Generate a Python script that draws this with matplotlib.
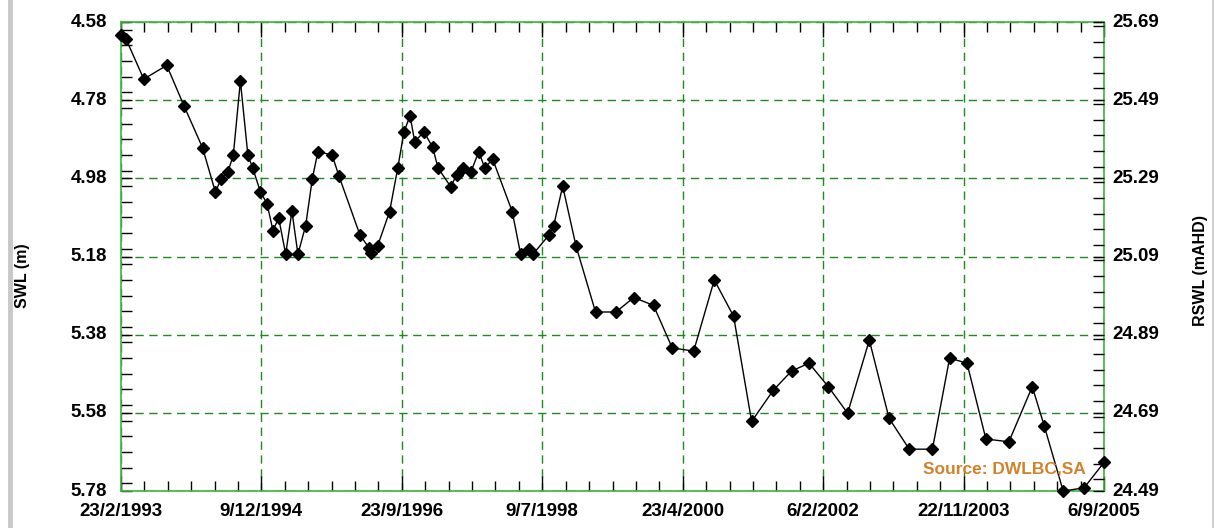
import datetime as dt

import matplotlib
matplotlib.use("Agg")
import matplotlib.pyplot as plt
import matplotlib.dates as mdates
import matplotlib.transforms as mtransforms
from matplotlib.ticker import MultipleLocator, FuncFormatter, FixedLocator
from matplotlib.lines import Line2D

plt.rcParams['font.family'] = ['Liberation Sans', 'DejaVu Sans']

# Sample dates and standing water level below ground (m)
dates = [
    "1993-02-23", "1993-03-18", "1993-06-09", "1993-09-24", "1993-12-13",
    "1994-03-10", "1994-05-08", "1994-06-05", "1994-07-05", "1994-07-31",
    "1994-09-02", "1994-10-07", "1994-10-29", "1994-12-04", "1995-01-04",
    "1995-02-01", "1995-02-27", "1995-04-01", "1995-04-30", "1995-05-28",
    "1995-07-03", "1995-08-03", "1995-08-29", "1995-11-03", "1995-12-05",
    "1996-03-12", "1996-04-23", "1996-05-02", "1996-06-02", "1996-07-28",
    "1996-09-04", "1996-10-03", "1996-10-31", "1996-11-22", "1997-01-04",
    "1997-02-14", "1997-03-10", "1997-05-08", "1997-06-05", "1997-07-06",
    "1997-08-11", "1997-09-16", "1997-10-14", "1997-11-20", "1998-02-19",
    "1998-03-30", "1998-05-06", "1998-05-27", "1998-08-09", "1998-08-31",
    "1998-10-12", "1998-12-13", "1999-03-14", "1999-06-17", "1999-09-08",
    "1999-12-09", "2000-03-05", "2000-06-13", "2000-09-17", "2000-12-16",
    "2001-03-10", "2001-06-19", "2001-09-12", "2001-12-02", "2002-03-02",
    "2002-05-31", "2002-09-09", "2002-12-10", "2003-03-14", "2003-06-30",
    "2003-09-18", "2003-12-08", "2004-03-05", "2004-06-20", "2004-10-07",
    "2004-12-02", "2005-02-28", "2005-06-05", "2005-09-06",
]
swl = [
    4.613, 4.623, 4.726, 4.691, 4.794,
    4.902, 5.014, 4.982, 4.965, 4.921,
    4.731, 4.921, 4.953, 5.014, 5.045,
    5.114, 5.081, 5.174, 5.064, 5.174,
    5.101, 4.981, 4.912, 4.920, 4.974,
    5.125, 5.158, 5.171, 5.153, 5.065,
    4.953, 4.861, 4.820, 4.886, 4.861,
    4.901, 4.953, 5.001, 4.972, 4.953,
    4.963, 4.912, 4.953, 4.931, 5.065,
    5.174, 5.162, 5.174, 5.125, 5.101,
    5.000, 5.153, 5.322, 5.322, 5.285,
    5.305, 5.414, 5.422, 5.240, 5.333,
    5.602, 5.522, 5.473, 5.453, 5.513,
    5.581, 5.394, 5.594, 5.673, 5.673,
    5.440, 5.453, 5.647, 5.654, 5.513,
    5.614, 5.780, 5.772, 5.707,
]

swl_ticks = [4.58, 4.78, 4.98, 5.18, 5.38, 5.58, 5.78]
rswl_ticks = [24.49, 24.69, 24.89, 25.09, 25.29, 25.49, 25.69]
x_start = "1993-02-23"
x_step_days = 654
n_x_steps = 7

GRID_GREEN = '#1f8a1f'
SPINE_GREEN = '#3cb43c'
SOURCE_ORANGE = '#d2822a'


def fmt_date(x, pos=None):
    d = mdates.num2date(x)
    return f"{d.day}/{d.month}/{d.year}"


def main():
    x = [dt.datetime.strptime(s, "%Y-%m-%d") for s in dates]
    t0 = dt.datetime.strptime(x_start, "%Y-%m-%d")
    xticks = [mdates.date2num(t0 + dt.timedelta(days=x_step_days * k)) for k in range(n_x_steps + 1)]
    xminor = [mdates.date2num(t0 + dt.timedelta(days=x_step_days * k / 6)) for k in range(n_x_steps * 6 + 1)]

    fig = plt.figure(figsize=(12.14, 5.28), dpi=100)
    ax = fig.add_axes([121 / 1214, 1 - 491 / 528, (1104 - 121) / 1214, (491 - 22) / 528])

    ax.plot(x, swl, color='black', linewidth=1.0, marker='D', markersize=6.2,
            markerfacecolor='black', markeredgecolor='black', zorder=4, clip_on=False)

    ax.set_xlim(xticks[0], xticks[-1])
    ax.set_ylim(swl_ticks[-1], swl_ticks[0])

    ax.xaxis.set_major_locator(FixedLocator(xticks))
    ax.xaxis.set_minor_locator(FixedLocator(xminor))
    ax.xaxis.set_major_formatter(FuncFormatter(fmt_date))
    ax.set_yticks(swl_ticks)
    ax.yaxis.set_minor_locator(MultipleLocator(0.04))
    ax.yaxis.set_major_formatter(FuncFormatter(lambda v, p: f"{v:.2f}"))

    ax.grid(True, which='major', color=GRID_GREEN, linestyle=(0, (6, 4)), linewidth=1.0)
    ax.tick_params(axis='both', which='both', direction='in', color='black', width=1.0)
    ax.tick_params(axis='x', which='both', top=True, bottom=True)
    ax.tick_params(axis='x', which='major', length=11, pad=9, labelsize=13.5)
    ax.tick_params(axis='x', which='minor', length=7)
    ax.tick_params(axis='y', which='major', length=8, pad=10, labelsize=13.5)
    ax.tick_params(axis='y', which='minor', length=8)

    lift = mtransforms.ScaledTranslation(0, 2 / 100, fig.dpi_scale_trans)
    for lab in ax.get_xticklabels() + ax.get_yticklabels():
        lab.set_fontweight('bold')
    for lab in ax.get_yticklabels():
        lab.set_transform(lab.get_transform() + lift)

    for sp in ax.spines.values():
        sp.set_color(SPINE_GREEN)
        sp.set_linewidth(1.2)

    ax2 = ax.twinx()
    ax2.set_ylim(rswl_ticks[0], rswl_ticks[-1])
    ax2.set_yticks(rswl_ticks)
    ax2.yaxis.set_minor_locator(MultipleLocator(0.04))
    ax2.yaxis.set_major_formatter(FuncFormatter(lambda v, p: f"{v:.2f}"))
    ax2.tick_params(axis='y', which='both', direction='in', color='black', width=1.0, length=8)
    ax2.tick_params(axis='y', which='major', pad=6, labelsize=13.5)
    for lab in ax2.get_yticklabels():
        lab.set_fontweight('bold')
        lab.set_transform(lab.get_transform() + lift)
    for sp in ax2.spines.values():
        sp.set_visible(False)

    fig.text(23 / 1214, 1 - 276 / 528, 'SWL (m)', rotation=90, ha='center', va='center',
             fontsize=11.5, fontweight='bold')
    fig.text(1200 / 1214, 1 - 270 / 528, 'RSWL (mAHD)', rotation=90, ha='center', va='center',
             fontsize=11.5, fontweight='bold')
    ax.text(0.981, 0.046, 'Source: DWLBC,SA', transform=ax.transAxes, ha='right', va='center',
            fontsize=12.5, fontweight='bold', color=SOURCE_ORANGE, zorder=5)

    # grey frame edges of the original screenshot
    fig.add_artist(Line2D([10 / 1214, 10 / 1214], [0, 1], transform=fig.transFigure,
                          color='#c8c8c8', linewidth=3.5))
    fig.add_artist(Line2D([1212.5 / 1214, 1212.5 / 1214], [0, 1], transform=fig.transFigure,
                          color='#d0d0d0', linewidth=1.5))

    fig.savefig('out.png', dpi=100)
    plt.close(fig)


if __name__ == "__main__":
    main()
